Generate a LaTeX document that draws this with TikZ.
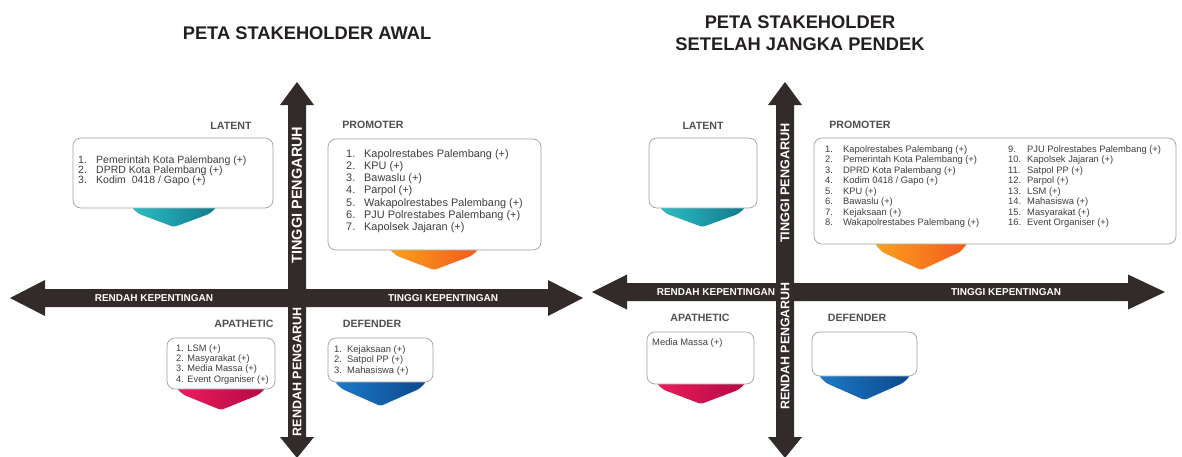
\documentclass[tikz,border=0pt]{standalone}
\usepackage{fontspec}
\setmainfont{Liberation Sans}
\usepackage{tikz}

\definecolor{axisdark}{RGB}{51,43,41}
\definecolor{cardline}{RGB}{160,160,160}
\definecolor{titledark}{RGB}{35,31,32}
\definecolor{labelgray}{RGB}{80,80,80}
\definecolor{itemgray}{RGB}{62,62,62}
\definecolor{tealL}{RGB}{45,190,196}
\definecolor{tealR}{RGB}{16,122,140}
\definecolor{orangeL}{RGB}{252,160,28}
\definecolor{orangeR}{RGB}{242,90,30}
\definecolor{crimL}{RGB}{236,28,92}
\definecolor{crimR}{RGB}{178,10,70}
\definecolor{blueL}{RGB}{28,122,200}
\definecolor{blueR}{RGB}{12,72,140}

\begin{document}
\begin{tikzpicture}[x=1pt, y=-1pt,
    axis/.style={fill=axisdark},
    card/.style={draw=cardline, fill=white, rounded corners=8pt, line width=0.7pt},
    chev/.style={rounded corners=2.5pt},
    title/.style={font=\fontsize{18.3}{22}\selectfont\bfseries, text=titledark, align=center, inner sep=0pt},
    quad/.style={font=\fontsize{10.6}{12}\selectfont\bfseries, text=labelgray, inner sep=0pt},
    axislabel/.style={font=\fontsize{10}{12}\selectfont\bfseries, text=white, inner sep=0pt},
    item/.style={text=itemgray, inner sep=0pt, anchor=base west}]

\useasboundingbox (0,0) rectangle (1182,456);

% axes
\fill[axis] (10,298) -- (45,280) -- (45,289) -- (548,289) -- (548,280) -- (583,298) -- (548,316) -- (548,307) -- (45,307) -- (45,316) -- cycle;
\fill[axis] (297,82) -- (314,105) -- (306,105) -- (306,437) -- (314,437) -- (297,458) -- (280,437) -- (288,437) -- (288,105) -- (280,105) -- cycle;
\fill[axis] (592,292) -- (627,274.5) -- (627,283) -- (1128,283) -- (1128,274.5) -- (1165,292) -- (1128,309.5) -- (1128,301) -- (627,301) -- (627,309.5) -- cycle;
\fill[axis] (785,82) -- (802,105) -- (794,105) -- (794,437) -- (802,437) -- (785,458) -- (768,437) -- (776,437) -- (776,105) -- (768,105) -- cycle;

% chevrons
\shade[chev, left color=tealL, right color=tealR] (132,202) -- (132,208) -- (139,214) -- (174,227) -- (209,214) -- (216,208) -- (216,202) -- cycle;
\shade[chev, left color=orangeL, right color=orangeR] (390,244) -- (390,250) -- (397,256) -- (434,270) -- (471,256) -- (478,250) -- (478,244) -- cycle;
\shade[chev, left color=crimL, right color=crimR] (177,383) -- (177,389) -- (184,395) -- (221,410) -- (258,395) -- (265,389) -- (265,383) -- cycle;
\shade[chev, left color=blueL, right color=blueR] (335,376) -- (335,382) -- (342,389) -- (380.5,406) -- (419,389) -- (426,382) -- (426,376) -- cycle;
\shade[chev, left color=tealL, right color=tealR] (660,202) -- (660,208) -- (667,214) -- (702.5,227) -- (738,214) -- (745,208) -- (745,202) -- cycle;
\shade[chev, left color=orangeL, right color=orangeR] (875,238) -- (875,244) -- (882,252) -- (921,270) -- (960,252) -- (967,244) -- (967,238) -- cycle;
\shade[chev, left color=crimL, right color=crimR] (657,378) -- (657,384) -- (664,390) -- (701,404) -- (738,390) -- (745,384) -- (745,378) -- cycle;
\shade[chev, left color=blueL, right color=blueR] (819,370) -- (819,376) -- (826,383) -- (864.5,400) -- (903,383) -- (910,376) -- (910,370) -- cycle;

% cards
\draw[card] (73,138) rectangle (273,208);
\draw[card] (328,139) rectangle (541,250);
\draw[card] (167,338) rectangle (275,389);
\draw[card] (328,338) rectangle (433,382);
\draw[card] (649,138) rectangle (757,208);
\draw[card] (814,138) rectangle (1176,244);
\draw[card] (647,332) rectangle (754,384);
\draw[card] (812,332) rectangle (917,376);

% titles and labels
\node[title] (titleA) at (307,33) {PETA STAKEHOLDER AWAL};
\node[title] (titleB) at (800,33) {PETA STAKEHOLDER\\SETELAH JANGKA PENDEK};

\node[quad] (aLatent) at (231,126) {LATENT};
\node[quad] (aPromoter) at (373,125) {PROMOTER};
\node[quad] (aApathetic) at (244,324) {APATHETIC};
\node[quad] (aDefender) at (372,324) {DEFENDER};
\node[quad] (bLatent) at (703,126) {LATENT};
\node[quad] (bPromoter) at (860,125) {PROMOTER};
\node[quad] (bApathetic) at (700,318) {APATHETIC};
\node[quad] (bDefender) at (857,318) {DEFENDER};

\node[axislabel] (aLowInt) at (154,298) {RENDAH KEPENTINGAN};
\node[axislabel] (aHighInt) at (443,298) {TINGGI KEPENTINGAN};
\node[axislabel, font=\fontsize{14.5}{16}\selectfont\bfseries, rotate=90] (aHighInf) at (297,195) {TINGGI PENGARUH};
\node[axislabel, font=\fontsize{12.5}{14}\selectfont\bfseries, rotate=90] (aLowInf) at (297,372) {RENDAH PENGARUH};
\node[axislabel] (bLowInt) at (716,292) {RENDAH KEPENTINGAN};
\node[axislabel] (bHighInt) at (1006,292) {TINGGI KEPENTINGAN};
\node[axislabel, font=\fontsize{12.7}{14}\selectfont\bfseries, rotate=90] (bHighInf) at (785,183) {TINGGI PENGARUH};
\node[axislabel, font=\fontsize{12.4}{14}\selectfont\bfseries, rotate=90] (bLowInf) at (785,346) {RENDAH PENGARUH};

% lists, first map
\foreach \txt [count=\i] in {Pemerintah Kota Palembang (+), DPRD Kota Palembang (+), Kodim\ \ 0418 / Gapo (+)} {
  \node[item, font=\fontsize{10.5}{10}\selectfont] (aLatN\i) at (78,{163+10*(\i-1)}) {\i.};
  \node[item, font=\fontsize{10.5}{10}\selectfont] (aLat\i) at (96,{163+10*(\i-1)}) {\txt};
}
\foreach \txt [count=\i] in {Kapolrestabes Palembang (+), KPU (+), Bawaslu (+), Parpol (+), Wakapolrestabes Palembang (+), PJU Polrestabes Palembang (+), Kapolsek Jajaran (+)} {
  \node[item, font=\fontsize{10.9}{12}\selectfont] (aProN\i) at (346,{157+12.3*(\i-1)}) {\i.};
  \node[item, font=\fontsize{10.9}{12}\selectfont] (aPro\i) at (364,{157+12.3*(\i-1)}) {\txt};
}
\foreach \txt [count=\i] in {1. LSM (+), 2. Masyarakat (+), 3. Media Massa (+), 4. Event Organiser (+)} {
  \node[item, font=\fontsize{9.3}{10}\selectfont] (aApa\i) at (176,{351.3+10.3*(\i-1)}) {\txt};
}
\foreach \txt [count=\i] in {Kejaksaan (+), Satpol PP (+), Mahasiswa (+)} {
  \node[item, font=\fontsize{9.4}{10}\selectfont] (aDefN\i) at (334,{352.4+10.5*(\i-1)}) {\i.};
  \node[item, font=\fontsize{9.4}{10}\selectfont] (aDef\i) at (347,{352.4+10.5*(\i-1)}) {\txt};
}

% lists, second map
\foreach \txt [count=\i] in {Kapolrestabes Palembang (+), Pemerintah Kota Palembang (+), DPRD Kota Palembang (+), Kodim 0418 / Gapo (+), KPU (+), Bawaslu (+), Kejaksaan (+), Wakapolrestabes Palembang (+)} {
  \node[item, font=\fontsize{9.35}{10}\selectfont] (bProN\i) at (825,{152.4+10.5*(\i-1)}) {\i.};
  \node[item, font=\fontsize{9.35}{10}\selectfont] (bPro\i) at (843,{152.4+10.5*(\i-1)}) {\txt};
}
\foreach \txt [count=\i from 9] in {PJU Polrestabes Palembang (+), Kapolsek Jajaran (+), Satpol PP (+), Parpol (+), LSM (+), Mahasiswa (+), Masyarakat (+), Event Organiser (+)} {
  \node[item, font=\fontsize{9.35}{10}\selectfont] (bProN\i) at (1008,{152.4+10.5*(\i-9)}) {\i.};
  \node[item, font=\fontsize{9.35}{10}\selectfont] (bPro\i) at (1027,{152.4+10.5*(\i-9)}) {\txt};
}
\node[item, font=\fontsize{9.4}{10}\selectfont] (bApa1) at (652,345.4) {Media Massa (+)};

\end{tikzpicture}
\end{document}
